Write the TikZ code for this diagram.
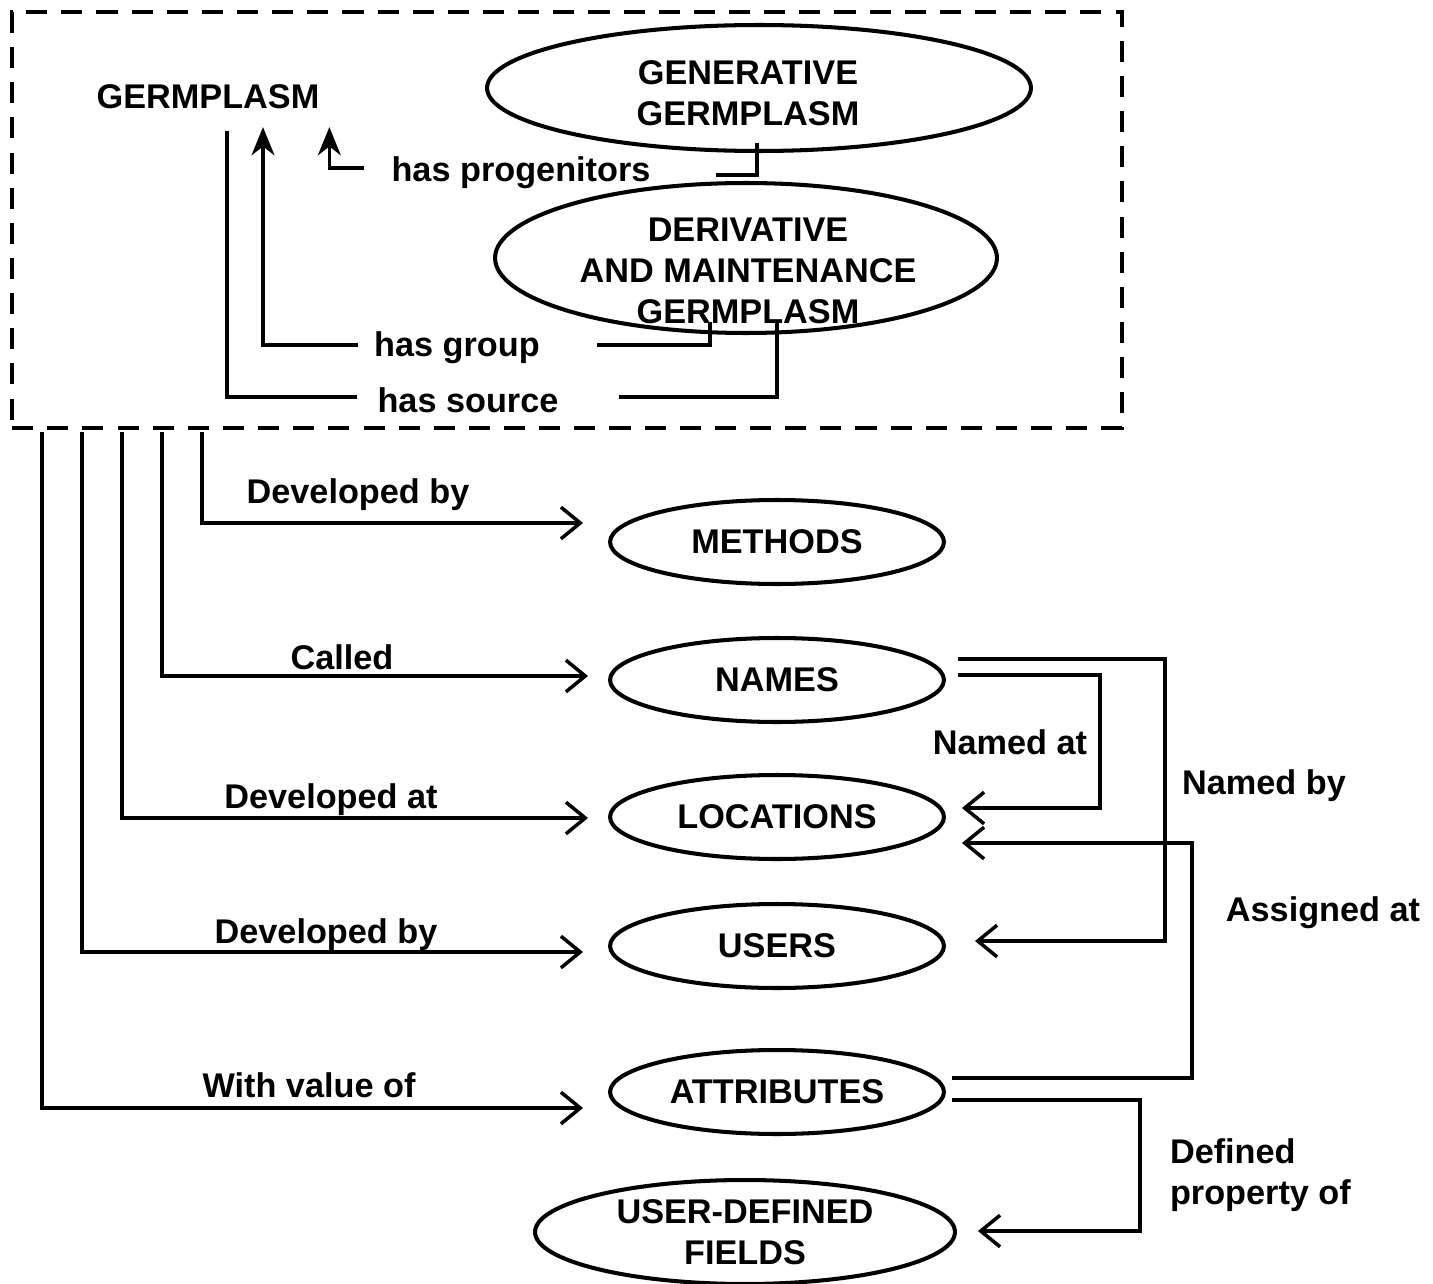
\documentclass[tikz,border=0pt]{standalone}
\usepackage{fontspec}
\setmainfont{Liberation Sans}
\usetikzlibrary{arrows.meta,shapes.geometric}

\begin{document}
\begin{tikzpicture}[x=0.02cm, y=-0.02cm,
  every node/.style={font=\bfseries\fontsize{19.5}{23.3}\selectfont, inner sep=0pt, outer sep=0pt, align=center},
  oval/.style={draw, ellipse, line width=2.3pt, minimum width=6.68cm, minimum height=1.68cm},
  link/.style={line width=2.1pt},
  up/.style={link, -{Stealth[length=16pt, width=13pt, inset=5pt]}},
  flow/.style={line width=2pt, -{Straight Barb[length=11pt, width=18pt]}}]
	\useasboundingbox (0,0) rectangle (1433,1284);
	% germplasm group
	\node[draw, dash pattern=on 12pt off 8pt, line width=2.3pt, minimum width=22.2cm, minimum height=8.32cm] (gbox) at (567,220) {};
	\node (germ) at (208,97) {GERMPLASM};
	\node[oval, minimum width=10.88cm, minimum height=2.52cm] (gen) at (759,88) {};
	\node (gentxt) at (748,93) {GENERATIVE\\GERMPLASM};
	\node[oval, minimum width=10.04cm, minimum height=3cm] (der) at (746,258) {};
	\node (dertxt) at (748,271) {DERIVATIVE\\AND MAINTENANCE\\GERMPLASM};
	\node (prog) at (521,173) {has progenitors};
	\node (grp) at (457,348) {has group};
	\node (src) at (468,400) {has source};
	\draw[link] ([shift={(19,22)}]germ.south) |- ([shift={(-21,-3)}]src.west);
	\draw[link] ([shift={(61,-3)}]src.east) -| ([shift={(31,-11)}]der.south);
	\draw[up] ([shift={(-16,-3)}]grp.west) -| ([shift={(55,18)}]germ.south);
	\draw[link] ([shift={(57,-3)}]grp.east) -| ([shift={(-36,-11)}]der.south);
	\draw[up] ([shift={(-28,-5)}]prog.west) -| ([shift={(10,18)}]germ.south east);
	\draw[link] ([shift={(-2,-8)}]gen.south) |- ([shift={(66,2)}]prog.east);
	% related tables
	\node[oval] (meth) at (777,542) {METHODS};
	\node[oval] (names) at (777,680) {NAMES};
	\node[oval] (loc) at (777,817) {LOCATIONS};
	\node[oval] (users) at (777,946) {USERS};
	\node[oval] (attr) at (777,1092) {ATTRIBUTES};
	\node[oval, minimum width=8.4cm, minimum height=2.08cm] (udf) at (745,1232) {USER-DEFINED\\FIELDS};
	\node (lmeth) at (358,495) {Developed by};
	\node (lnames) at (342,657) {Called};
	\node (lloc) at (331,800) {Developed at};
	\node (lusers) at (326,935) {Developed by};
	\node (lattr) at (309,1085) {With value of};
	\node (lnamedat) at (1010,742) {Named at};
	\node (lnamedby) at (1264,786) {Named by};
	\node (lassign) at (1323,913) {Assigned at};
	\node[anchor=west, align=left] (ldefined) at (1170,1175) {Defined\\property of};
	\foreach \dx/\dest/\ex/\ey in {190/meth/-27/-19, 150/names/-22/-4, 110/loc/-22/1, 70/users/-27/6, 30/attr/-27/16}
		\draw[flow] ([shift={(\dx,4)}]gbox.south west) |- ([shift={(\ex,\ey)}]\dest.west);
	\draw[flow] ([shift={(14,-21)}]names.east) -- ++(207,0) |- ([shift={(31,-5)}]users.east);
	\draw[flow] ([shift={(14,-5)}]names.east) -- ++(142,0) |- ([shift={(18,-9)}]loc.east);
	\draw[flow] ([shift={(8,-14)}]attr.east) -- ++(240,0) |- ([shift={(18,26)}]loc.east);
	\draw[flow] ([shift={(8,8)}]attr.east) -- ++(188,0) |- ([shift={(23,-1)}]udf.east);
\end{tikzpicture}
\end{document}
